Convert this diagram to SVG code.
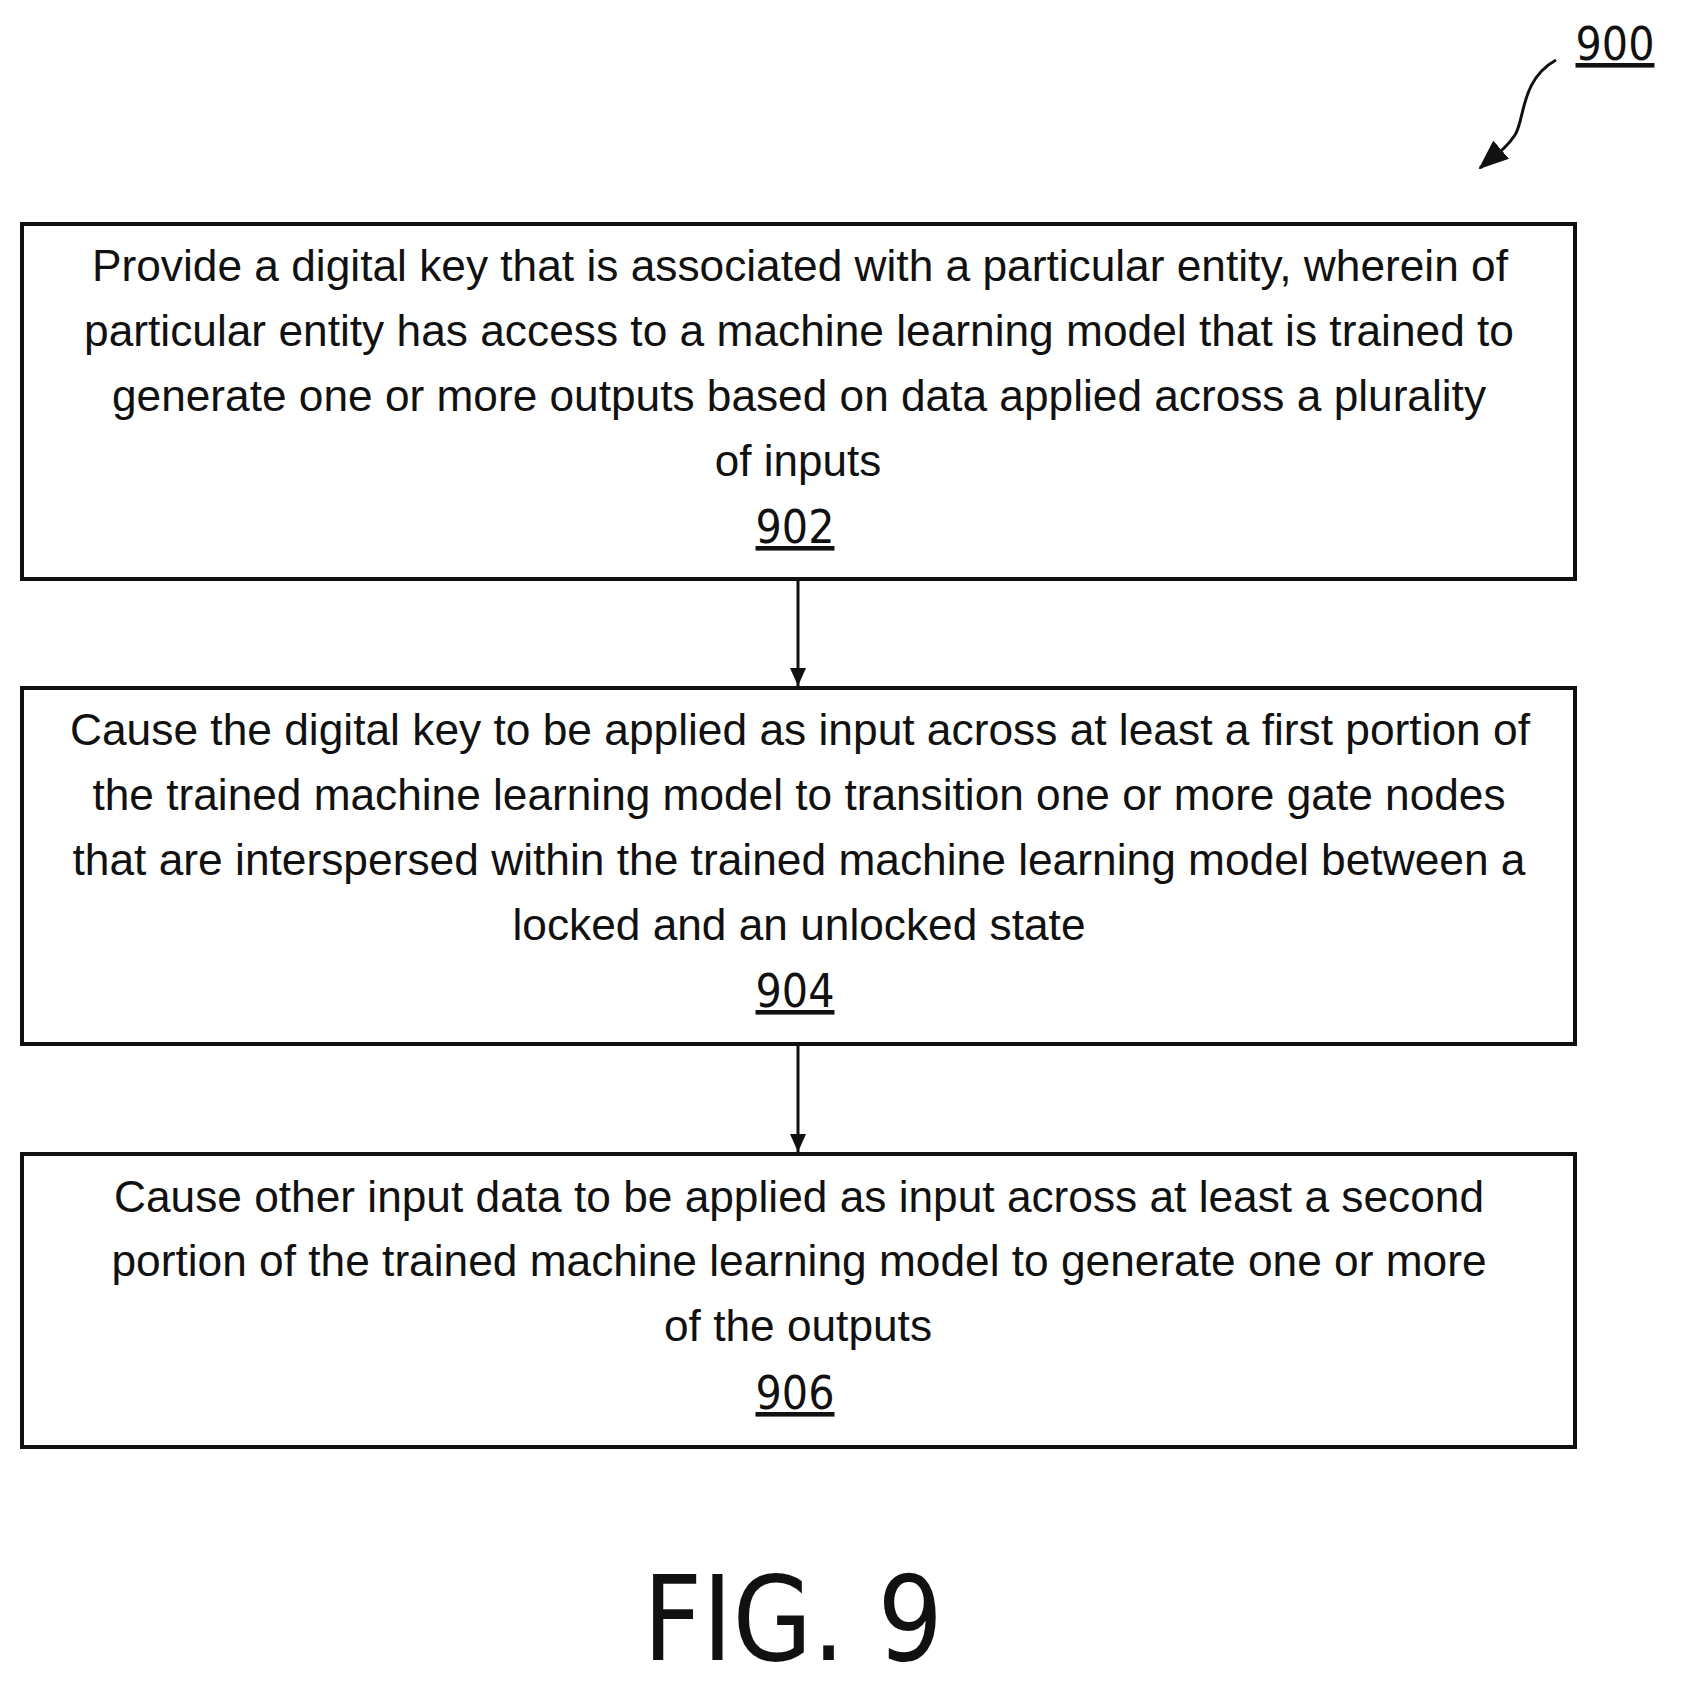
<svg xmlns="http://www.w3.org/2000/svg" width="1683" height="1695" viewBox="0 0 1683 1695">
<style>
.b{fill:#fff;stroke:#111;stroke-width:4}
.t{font-family:"Liberation Sans",Arial,sans-serif;font-size:44px;fill:#111;text-anchor:middle}
.n{font-family:"DejaVu Sans Condensed","DejaVu Sans",sans-serif;font-size:46px;fill:#111;text-anchor:middle;text-decoration:underline}
.c{stroke:#111;stroke-width:3;fill:none}
</style>
<defs><marker id="a" markerWidth="18" markerHeight="20" refX="18" refY="10" orient="auto" markerUnits="userSpaceOnUse"><path d="M0,2 L18,10 L0,18 Z" fill="#111"/></marker>
<marker id="h" markerWidth="30" markerHeight="24" refX="28" refY="12" orient="auto" markerUnits="userSpaceOnUse"><path d="M0,0 L30,12 L0,24 Z" fill="#111"/></marker></defs>
<rect width="1683" height="1695" fill="#fff"/>
<g id="label900">
<text class="n" x="1615" y="60">900</text>
<path class="c" d="M1556,60 C1520,80 1525,120 1515,135 C1505,150 1495,155 1480,168" marker-end="url(#h)" stroke-width="4"/>
</g>
<g id="n902">
<rect class="b" x="22" y="224" width="1553" height="355"/>
<text class="t" x="800" y="281" textLength="1416" lengthAdjust="spacingAndGlyphs">Provide a digital key that is associated with a particular entity, wherein of</text>
<text class="t" x="799" y="346" textLength="1430" lengthAdjust="spacingAndGlyphs">particular entity has access to a machine learning model that is trained to</text>
<text class="t" x="799" y="411" textLength="1374" lengthAdjust="spacingAndGlyphs">generate one or more outputs based on data applied across a plurality</text>
<text class="t" x="798" y="476">of inputs</text>
<text class="n" x="795" y="543">902</text>
</g>
<g id="n904">
<rect class="b" x="22" y="688" width="1553" height="356"/>
<text class="t" x="800" y="745" textLength="1460" lengthAdjust="spacingAndGlyphs">Cause the digital key to be applied as input across at least a first portion of</text>
<text class="t" x="799" y="810" textLength="1413" lengthAdjust="spacingAndGlyphs">the trained machine learning model to transition one or more gate nodes</text>
<text class="t" x="799" y="875" textLength="1453" lengthAdjust="spacingAndGlyphs">that are interspersed within the trained machine learning model between a</text>
<text class="t" x="799" y="940" textLength="573" lengthAdjust="spacingAndGlyphs">locked and an unlocked state</text>
<text class="n" x="795" y="1007">904</text>
</g>
<g id="n906">
<rect class="b" x="22" y="1154" width="1553" height="293"/>
<text class="t" x="799" y="1212" textLength="1370" lengthAdjust="spacingAndGlyphs">Cause other input data to be applied as input across at least a second</text>
<text class="t" x="799" y="1276" textLength="1375" lengthAdjust="spacingAndGlyphs">portion of the trained machine learning model to generate one or more</text>
<text class="t" x="798" y="1341" textLength="268" lengthAdjust="spacingAndGlyphs">of the outputs</text>
<text class="n" x="795" y="1409">906</text>
</g>
<g id="connectors">
<line class="c" x1="798" y1="579" x2="798" y2="686" marker-end="url(#a)"/>
<line class="c" x1="798" y1="1044" x2="798" y2="1152" marker-end="url(#a)"/>
</g>
<text x="793" y="1660" font-family="DejaVu Sans Condensed,DejaVu Sans,sans-serif" font-size="118" fill="#111" text-anchor="middle" textLength="300" lengthAdjust="spacingAndGlyphs">FIG. 9</text>
</svg>
